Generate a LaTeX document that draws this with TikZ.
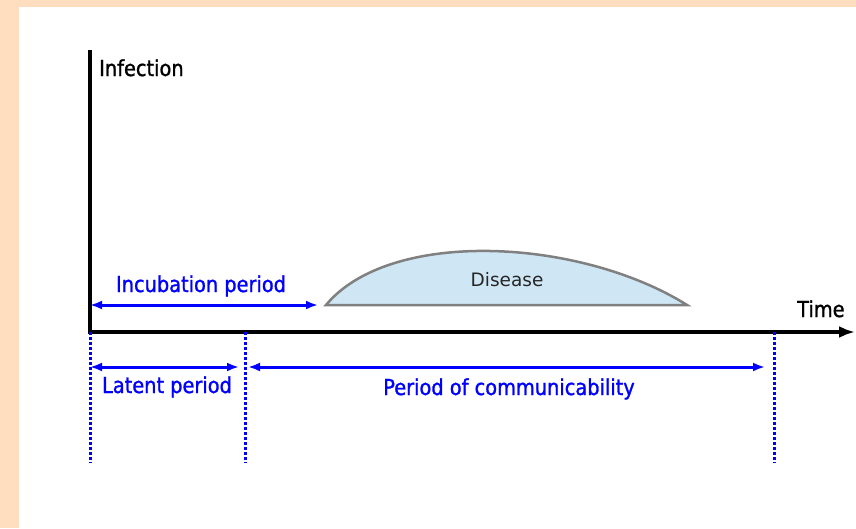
\documentclass[tikz,border=0pt]{standalone}
\usepackage{fontspec}
\setmainfont{DejaVu Sans}
\newfontfamily\lblfont[FakeStretch=0.88,FakeBold=1.2]{DejaVu Sans}
\usetikzlibrary{arrows.meta}
\definecolor{peach}{RGB}{255,222,192}
\definecolor{diseasefill}{RGB}{207,230,244}
\definecolor{diseaseline}{RGB}{128,128,128}
\tikzset{
  axis/.style={line width=3.5pt, line join=miter, -{Latex[length=16pt,width=12pt]}},
  span/.style={blue, line width=3pt, {Latex[length=12pt,width=9pt]}-{Latex[length=12pt,width=9pt]}},
  marker/.style={blue, line width=3pt, dash pattern=on 3pt off 2pt},
  lbl/.style={inner sep=0pt, anchor=base, font=\lblfont\fontsize{22}{26}\selectfont},
}
\begin{document}
\begin{tikzpicture}[x=1pt, y=-1pt]
  \useasboundingbox (0,0) rectangle (856,528);
  \fill[peach] (0,0) rectangle (856,528);
  \fill[white] (19,7) rectangle (856,528);
  % axes
  \coordinate (o) at (90,332);
  \coordinate (ytop) at (90,50);
  \coordinate (xend) at (855,332);
  \draw[axis] (ytop) -- (o) -- (xend);
  \node (infection) [lbl, anchor=base west, text=black] at (99,76) {Infection};
  \node (time) [lbl, anchor=base west, text=black] at (797,317) {Time};
  % disease
  \coordinate (dl) at (326,305);
  \coordinate (dr) at (687,305);
  \draw[diseaseline, fill=diseasefill, line width=2.5pt]
    (dl) .. controls (390,228) and (580,238) .. (dr) -- cycle;
  \node (disease) [inner sep=0pt, anchor=base, text=black!85,
    font=\fontsize{18.5}{22}\selectfont] at (507,286) {Disease};
  % markers
  \coordinate (m1) at (90,332);
  \coordinate (m1b) at (90,463);
  \coordinate (m2) at (245,332);
  \coordinate (m2b) at (245,463);
  \coordinate (m3) at (774,332);
  \coordinate (m3b) at (774,463);
  \draw[marker] (m1) -- (m1b);
  \draw[marker] (m2) -- (m2b);
  \draw[marker] (m3) -- (m3b);
  % periods
  \coordinate (inc0) at (90,305);
  \coordinate (inc1) at (318,305);
  \coordinate (lat0) at (90,367);
  \coordinate (lat1) at (239,367);
  \coordinate (com0) at (248,367);
  \coordinate (com1) at (765,367);
  \draw[span] (inc0) -- (inc1);
  \draw[span] (lat0) -- (lat1);
  \draw[span] (com0) -- (com1);
  \node (incubation) [lbl, text=blue] at (201,292) {Incubation period};
  \node (latent) [lbl, text=blue] at (167,393) {Latent period};
  \node (communicability) [lbl, text=blue] at (509,395) {Period of communicability};
\end{tikzpicture}
\end{document}
